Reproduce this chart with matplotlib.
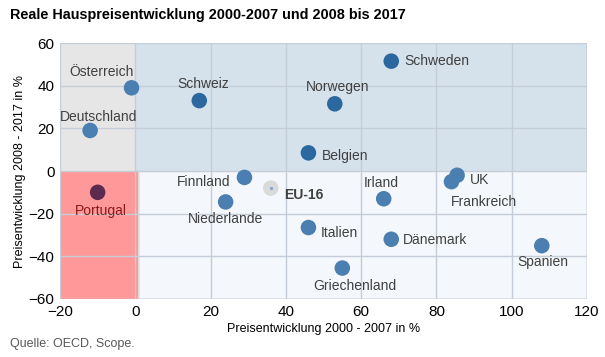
import matplotlib.pyplot as plt
from matplotlib.patches import Rectangle

plt.rcParams["font.family"] = ["Liberation Sans", "DejaVu Sans"]

# Data: price growth 2000-2007 (x) and 2008-2017 (y), in %
countries = ["Österreich", "Deutschland", "Portugal", "Schweiz", "Schweden",
             "Norwegen", "Belgien", "Finnland", "EU-16", "Niederlande",
             "Irland", "UK", "Frankreich", "Italien", "Dänemark",
             "Spanien", "Griechenland"]
growth_00_07 = [-1, -12, -10, 17, 68, 53, 46, 29, 36, 24,
                66, 85.5, 84, 46, 68, 108, 55]
growth_08_17 = [39, 19, -10, 33, 51.5, 31.5, 8.5, -3, -8, -14.5,
                -13, -2, -5, -26.5, -32, -35, -45.5]

# label offsets in pixels (dx, dy, ha)
offsets = {
    "Österreich": (-30, 16, "center"), "Deutschland": (8, 13, "center"),
    "Portugal": (3, -19, "center"), "Schweiz": (4, 17, "center"),
    "Schweden": (13, 0, "left"), "Norwegen": (3, 17, "center"),
    "Belgien": (13, -3, "left"), "Finnland": (-14, -5, "right"),
    "EU-16": (13, -7, "left"), "Niederlande": (0, -17, "center"),
    "Irland": (-2, 16, "center"), "UK": (13, -5, "left"),
    "Frankreich": (32, -20, "center"), "Italien": (12, -5, "left"),
    "Dänemark": (12, -1, "left"), "Spanien": (1, -16, "center"),
    "Griechenland": (12, -18, "center"),
}

dark = ["Schweden", "Norwegen", "Belgien", "Schweiz"]

fig = plt.figure(figsize=(6.05, 3.57), dpi=100)
ax = fig.add_axes([0.0992, 0.1625, 0.871, 0.717])
ax.set_xlim(-20, 120)
ax.set_ylim(-60, 60)

# Background quadrants
ax.add_patch(Rectangle((0, 0), 120, 60, facecolor="#d5e1eb", edgecolor="#c3d1de", lw=1.2, zorder=0))
ax.add_patch(Rectangle((-20, 0), 20, 60, facecolor="#e6e6e6", edgecolor="none", zorder=0))
ax.add_patch(Rectangle((-20, -60), 21, 60, facecolor="#ff9898", edgecolor="none", zorder=0))
ax.add_patch(Rectangle((1, -60), 119, 60, facecolor="#f4f7fb", edgecolor="#dfe4ea", lw=1.2, zorder=0))

ax.set_xticks(range(-20, 121, 20))
ax.set_yticks(range(-60, 61, 20))
ax.grid(True, color="#c5ced8", lw=1, zorder=0.5)
ax.set_axisbelow(True)
for s in ax.spines.values():
    s.set_visible(False)
ax.tick_params(length=0, labelsize=11, pad=4)

for name, x, y in zip(countries, growth_00_07, growth_08_17):
    if name == "Portugal":
        col, tcol, weight = "#5c2a4e", "#8b1a1a", "normal"
    elif name == "EU-16":
        col, tcol, weight = "#dadada", "#404040", "bold"
    elif name in dark:
        col, tcol, weight = "#2b68a0", "#404040", "normal"
    else:
        col, tcol, weight = "#4b7eb1", "#404040", "normal"
    ax.scatter(x, y, s=125, color=col, edgecolors="none", zorder=3)
    if name == "EU-16":
        ax.scatter(x, y, s=2, color="#8aa6c4", zorder=4)
    dx, dy, ha = offsets[name]
    ax.annotate(name, (x, y), xytext=(dx * 0.72, dy * 0.72), textcoords="offset points",
                ha=ha, va="center", fontsize=10, color=tcol, fontweight=weight, zorder=5)

ax.set_xlabel("Preisentwicklung 2000 - 2007 in %", fontsize=9, labelpad=3)
ax.set_ylabel("Preisentwicklung 2008 - 2017 in %", fontsize=9, labelpad=2)

fig.text(10 / 605, 1 - 15 / 357, "Reale Hauspreisentwicklung 2000-2007 und 2008 bis 2017",
         fontsize=10.4, fontweight="bold", va="center", ha="left")
fig.text(10 / 605, 1 - 344 / 357, "Quelle: OECD, Scope.", fontsize=9,
         color="#595959", va="center", ha="left")

plt.savefig("out.png", dpi=100)
